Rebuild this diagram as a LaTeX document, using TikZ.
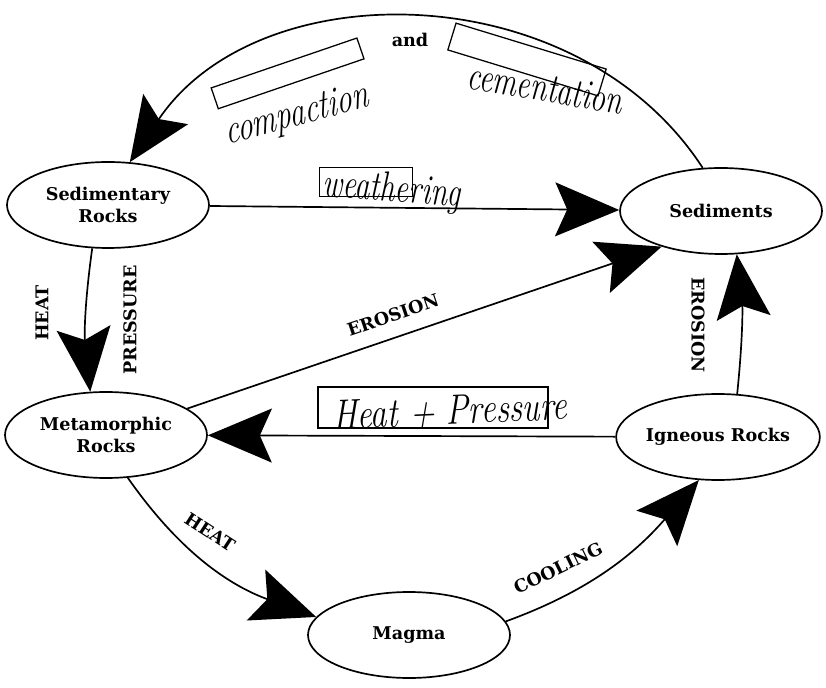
\documentclass[tikz,border=0pt]{standalone}
\usepackage{fontspec}
\usetikzlibrary{arrows.meta,shapes.geometric}
\newfontfamily\labelfont{DejaVu Serif}
\pgfdeclarelayer{bg}
\pgfsetlayers{bg,main}
\tikzset{
  rock/.style={ellipse, draw, line width=1.2pt, minimum width=5.05cm, minimum height=2.15cm,
    inner sep=0pt, align=center, font=\labelfont\bfseries\fontsize{12.5}{15.5}\selectfont},
  tag/.style={font=\labelfont\bfseries\fontsize{12.5}{15}\selectfont, inner sep=1pt},
  blank/.style={draw, line width=0.9pt, inner sep=0pt},
  hand/.style={font=\itshape\fontsize{30}{30}\selectfont, xscale=0.72, inner sep=0pt},
  flow/.style={line width=1.2pt, -{Stealth[length=1.6cm, width=1.35cm, inset=0.3cm]}}
}

\begin{document}
\begin{tikzpicture}
        \useasboundingbox (0cm, 0cm) rectangle (20.650000cm, 17.175000cm);
        \node (sr) [rock] at (2.700000cm, 12.050000cm) {Sedimentary\\Rocks};
        \node (sd) [rock] at (18.025000cm, 11.900000cm) {Sediments};
        \node (mr) [rock] at (2.650000cm, 6.300000cm) {Metamorphic\\Rocks};
        \node (ig) [rock] at (17.950000cm, 6.250000cm) {Igneous Rocks};
        \node (mg) [rock] at (10.225000cm, 1.300000cm) {Magma};
        % printed labels
        \node (and) [tag] at (10.250000cm, 16.175000cm) {and};
        \node (heat1) [tag, rotate=90] at (1.050000cm, 9.350000cm) {HEAT};
        \node (press) [tag, rotate=90] at (3.250000cm, 9.175000cm) {PRESSURE};
        \node (eros1) [tag, rotate=18.7] at (9.825000cm, 9.300000cm) {EROSION};
        \node (eros2) [tag, rotate=-90] at (17.450000cm, 9.050000cm) {EROSION};
        \node (heat2) [tag, rotate=-33] at (5.250000cm, 3.875000cm) {HEAT};
        \node (cool) [tag, rotate=26] at (13.950000cm, 2.975000cm) {COOLING};
        % answer boxes
        \node (cbox) [blank, minimum width=3.85cm, minimum height=0.55cm, rotate=18.9] at (7.190000cm, 15.340000cm) {};
        \node (mbox) [blank, minimum width=3.925cm, minimum height=0.7cm, rotate=-17] at (13.175000cm, 15.687500cm) {};
        \node (wbox) [blank, minimum width=2.325cm, minimum height=0.725cm] at (9.150000cm, 12.625000cm) {};
        \node (hbox) [blank, minimum width=5.75cm, minimum height=1.025cm] at (10.825000cm, 6.987500cm) {};
        % handwritten answers
        \node (comp) [hand, rotate=11] at (7.425000cm, 14.275000cm) {compaction};
        \node (cem) [hand, rotate=-7] at (13.625000cm, 14.975000cm) {cementation};
        \node (weath) [hand, rotate=-3] at (9.800000cm, 12.400000cm) {weathering};
        \node (hp) [hand, xscale=1.1, rotate=2] at (11.250000cm, 6.900000cm) {Heat + Pressure};
        \begin{pgfonlayer}{bg}
                \draw (sd.113) edge [flow, out=123, in=56, looseness=1.03] (sr.63);
                \draw (sr) edge [flow] (sd);
                \draw (sr.250) edge [flow, out=262, in=96] (mr.110);
                \draw (mr.18) edge [flow] (sd.211);
                \draw (ig.66) edge [flow, bend right=6] (sd.290);
                \draw (ig) edge [flow] (mr);
                \draw (mr.297) edge [flow, out=305, in=160] (mg.169);
                \draw (mg.8) edge [flow, out=20, in=229] (ig.246);
        \end{pgfonlayer}
\end{tikzpicture}
\end{document}
